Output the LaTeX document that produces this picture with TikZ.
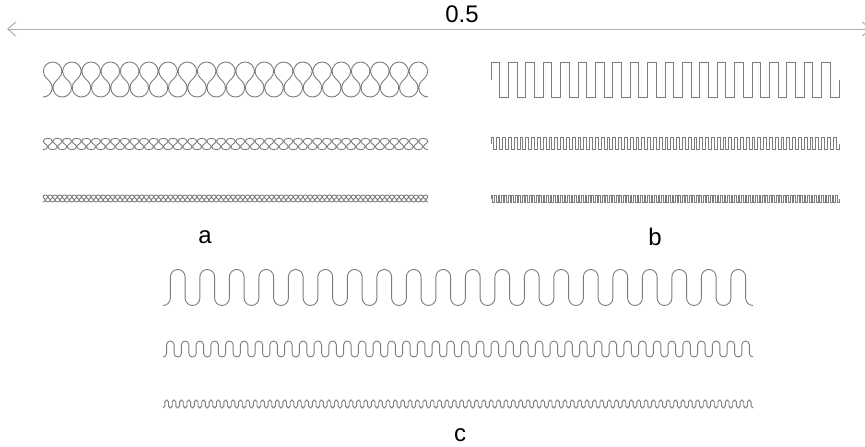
\documentclass[tikz,border=0pt]{standalone}
\usepackage{fontspec}
\setmainfont{Liberation Sans}
\usetikzlibrary{arrows.meta}
\definecolor{wire}{RGB}{125,125,125}
\definecolor{rule}{RGB}{175,175,175}
\begin{document}
\begin{tikzpicture}[x=1pt,y=-1pt]
\tikzstyle{trace}=[draw=wire,line width=0.9pt];
\tikzstyle{tag}=[font=\fontsize{24}{28}\selectfont,inner sep=0pt];
\tikzstyle{span}=[draw=rule,line width=1pt,{Straight Barb[length=8pt,width=14pt]}-{Straight Barb[length=8pt,width=14pt]}];
\useasboundingbox (0,0) rectangle (865,447);

\coordinate (scaleL) at (7,29);
\coordinate (scaleR) at (871,29);
\node [tag] (scale) at (462,14) {0.5};
\draw [span] (scaleL) -- (scaleR);

% a: looped
\draw [trace] (43,97.0) arc[start angle=90,end angle=-45,radius=9.243] \foreach \i in {1,...,19} { -- ++(-3.4466,-3.4466) arc[start angle=135,end angle=405,radius=9.243] -- ++(-3.4466,3.4466) arc[start angle=225,end angle=-45,radius=9.243] } -- ++(-3.4466,-3.4466) arc[start angle=135,end angle=405,radius=9.243] -- ++(-3.4466,3.4466) arc[start angle=225,end angle=90,radius=9.243];
\draw [trace] (43,149.75) arc[start angle=90,end angle=-45,x radius=4.6215,y radius=3.037] \foreach \i in {1,...,39} { -- ++(-1.7233,-1.1325) arc[start angle=135,end angle=405,x radius=4.6215,y radius=3.037] -- ++(-1.7233,1.1325) arc[start angle=225,end angle=-45,x radius=4.6215,y radius=3.037] } -- ++(-1.7233,-1.1325) arc[start angle=135,end angle=405,x radius=4.6215,y radius=3.037] -- ++(-1.7233,1.1325) arc[start angle=225,end angle=90,x radius=4.6215,y radius=3.037];
\draw [trace] (43,202.0) arc[start angle=90,end angle=-45,x radius=2.3108,y radius=1.8486] \foreach \i in {1,...,79} { -- ++(-0.86165,-0.6893) arc[start angle=135,end angle=405,x radius=2.3108,y radius=1.8486] -- ++(-0.86165,0.6893) arc[start angle=225,end angle=-45,x radius=2.3108,y radius=1.8486] } -- ++(-0.86165,-0.6893) arc[start angle=135,end angle=405,x radius=2.3108,y radius=1.8486] -- ++(-0.86165,0.6893) arc[start angle=225,end angle=90,x radius=2.3108,y radius=1.8486];
\node [tag] (lbla) at (205,237) {a};

% b: square
\draw [trace] (491,79.5) -- ++(0,-17.5) \foreach \i in {1,...,19} { -- ++(8.7,0) -- ++(0,35) -- ++(8.7,0) -- ++(0,-35) } -- ++(8.7,0) -- ++(0,35) -- ++(8.7,0) -- ++(0,-17.5);
\draw [trace] (491,143.5) -- ++(0,-6) \foreach \i in {1,...,59} { -- ++(2.9,0) -- ++(0,12) -- ++(2.9,0) -- ++(0,-12) } -- ++(2.9,0) -- ++(0,12) -- ++(2.9,0) -- ++(0,-6);
\draw [trace] (491,199) -- ++(0,-3.5) \foreach \i in {1,...,99} { -- ++(1.74,0) -- ++(0,7) -- ++(1.74,0) -- ++(0,-7) } -- ++(1.74,0) -- ++(0,7) -- ++(1.74,0) -- ++(0,-3.5);
\node [tag] (lblb) at (655,237) {b};

% c: rounded
\draw [trace,rounded corners=7.375pt] (163,305.5) -- ++(7.375,0) \foreach \i in {1,...,19} { -- ++(0,-36) -- ++(14.75,0) -- ++(0,36) -- ++(14.75,0) } -- ++(0,-36) -- ++(14.75,0) -- ++(0,36) -- ++(7.375,0);
\draw [trace,rounded corners=3.6875pt] (163,357) -- ++(3.6875,0) \foreach \i in {1,...,39} { -- ++(0,-16) -- ++(7.375,0) -- ++(0,16) -- ++(7.375,0) } -- ++(0,-16) -- ++(7.375,0) -- ++(0,16) -- ++(3.6875,0);
\draw [trace,rounded corners=1.844pt] (163,408) -- ++(1.844,0) \foreach \i in {1,...,79} { -- ++(0,-8) -- ++(3.6875,0) -- ++(0,8) -- ++(3.6875,0) } -- ++(0,-8) -- ++(3.6875,0) -- ++(0,8) -- ++(1.844,0);
\node [tag] (lblc) at (460,435) {c};
\end{tikzpicture}
\end{document}
